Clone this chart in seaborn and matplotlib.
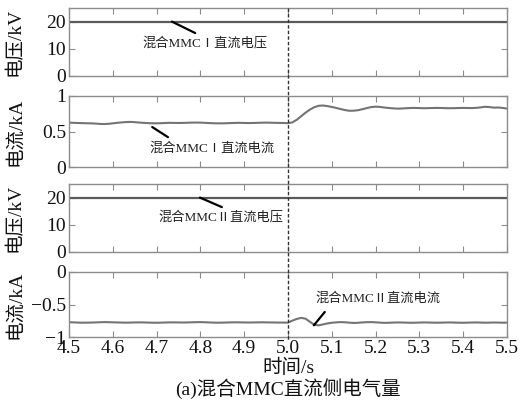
import numpy as np
import matplotlib
matplotlib.use("Agg")
import matplotlib.pyplot as plt
import matplotlib.transforms as mtransforms
import seaborn as sns

# ---------------- data ----------------
time_grid = np.linspace(4.5, 5.5, 101)

v1_time = [4.5, 5.5]
v1_kv = [20.0, 20.0]

i1_ka = [0.625, 0.622, 0.620, 0.618, 0.616, 0.615, 0.612, 0.607, 0.605, 0.608,
         0.615, 0.622, 0.628, 0.633, 0.635, 0.632, 0.626, 0.622, 0.618, 0.616,
         0.615, 0.617, 0.620, 0.622, 0.621, 0.620, 0.621, 0.623, 0.625, 0.626,
         0.625, 0.622, 0.619, 0.616, 0.615, 0.615, 0.617, 0.619, 0.621, 0.622,
         0.620, 0.619, 0.620, 0.622, 0.624, 0.625, 0.624, 0.622, 0.621, 0.620,
         0.617, 0.628, 0.665, 0.715, 0.765, 0.808, 0.842, 0.862, 0.866, 0.858,
         0.846, 0.832, 0.816, 0.802, 0.792, 0.793, 0.800, 0.814, 0.830, 0.844,
         0.850, 0.846, 0.838, 0.831, 0.826, 0.822, 0.824, 0.828, 0.831, 0.832,
         0.830, 0.828, 0.829, 0.831, 0.832, 0.831, 0.829, 0.828, 0.829, 0.831,
         0.832, 0.831, 0.830, 0.833, 0.840, 0.848, 0.844, 0.836, 0.838, 0.832,
         0.822]

v2_time = [4.5, 5.5]
v2_kv = [20.0, 20.0]

i2_ka = [-0.772, -0.775, -0.778, -0.780, -0.779, -0.778, -0.776, -0.773, -0.771, -0.772,
         -0.774, -0.776, -0.778, -0.779, -0.778, -0.776, -0.775, -0.776, -0.778, -0.780,
         -0.781, -0.779, -0.777, -0.775, -0.775, -0.776, -0.777, -0.776, -0.774, -0.772,
         -0.771, -0.773, -0.776, -0.779, -0.780, -0.779, -0.777, -0.775, -0.774, -0.775,
         -0.776, -0.777, -0.776, -0.775, -0.774, -0.775, -0.776, -0.777, -0.778, -0.778,
         -0.779, -0.748, -0.722, -0.706, -0.718, -0.766, -0.812, -0.821, -0.806, -0.791,
         -0.781, -0.775, -0.771, -0.774, -0.779, -0.784, -0.781, -0.776, -0.772, -0.771,
         -0.774, -0.779, -0.782, -0.781, -0.778, -0.776, -0.777, -0.779, -0.781, -0.780,
         -0.778, -0.776, -0.777, -0.779, -0.780, -0.779, -0.777, -0.776, -0.778, -0.780,
         -0.781, -0.779, -0.777, -0.776, -0.778, -0.780, -0.779, -0.777, -0.778, -0.780,
         -0.779]

xticks = [4.5, 4.6, 4.7, 4.8, 4.9, 5.0, 5.1, 5.2, 5.3, 5.4, 5.5]
xtick_labels = ["4.5", "4.6", "4.7", "4.8", "4.9", "5.0", "5.1", "5.2", "5.3", "5.4", "5.5"]
ylabels = ["电压/kV", "电流/kA", "电压/kV", "电流/kA"]
annot_texts = ["混合MMCⅠ直流电压", "混合MMCⅠ直流电流", "混合MMCⅡ直流电压", "混合MMCⅡ直流电流"]
xlabel = "时间/s"
caption = "(a)混合MMC直流侧电气量"

# ---------------- style ----------------
sns.set_style("ticks")
plt.rcParams['font.family'] = ['Liberation Serif', 'Noto Sans CJK SC']
plt.rcParams['axes.unicode_minus'] = True

W, H = 520, 404
fig = plt.figure(figsize=(W / 100, H / 100), dpi=100)
fig.patch.set_facecolor("white")

left_px, right_px = 69, 507
panels_px = [(8, 76), (96, 167), (184, 252), (272, 337)]
axes = []
for top, bot in panels_px:
    ax = fig.add_axes([left_px / W, (H - bot) / H, (right_px - left_px) / W, (bot - top) / H])
    axes.append(ax)

line_color = "#747474"
spine_color = "#8c8c8c"

sns.lineplot(x=v1_time, y=v1_kv, ax=axes[0], color="#5a5a5a", lw=1.6)
sns.lineplot(x=time_grid, y=i1_ka, ax=axes[1], color=line_color, lw=1.5)
sns.lineplot(x=v2_time, y=v2_kv, ax=axes[2], color="#5a5a5a", lw=1.6)
sns.lineplot(x=time_grid, y=i2_ka, ax=axes[3], color=line_color, lw=1.5)

ylims = [(0, 25), (0, 1), (0, 25), (-1, 0)]
yticks = [[0, 10, 20], [0, 0.5, 1], [0, 10, 20], [-1, -0.5, 0]]
ytick_labels = [["0", "10", "20"], ["0", "0.5", "1"], ["0", "10", "20"], ["\u22121", "\u22120.5", "0"]]

for k, ax in enumerate(axes):
    ax.set_xlim(4.5, 5.5)
    ax.set_ylim(*ylims[k])
    ax.set_xticks(xticks)
    ax.set_yticks(yticks[k])
    ax.set_yticklabels(ytick_labels[k])
    if k == 3:
        ax.set_xticklabels(xtick_labels)
    else:
        ax.set_xticklabels([])
    ax.tick_params(direction="in", top=True, right=True, length=4, width=0.8,
                   color=spine_color, labelsize=14, pad=2, labelcolor="#111111")
    for s in ax.spines.values():
        s.set_visible(True)
        s.set_color(spine_color)
        s.set_linewidth(1.0)
    ax.set_xlabel("")
    ax.set_ylabel(ylabels[k], fontsize=14, color="#111111")
    ax.yaxis.set_label_coords(-0.103, 0.5)

# annotations (leader lines + labels)
annot_lines = [((4.735, 20.0), (4.788, 15.8)),
               ((4.690, 0.563), (4.726, 0.42)),
               ((4.799, 20.0), (4.849, 16.5)),
               ((5.084, -0.615), (5.059, -0.82))]
annot_pos = [(4.810, 12.0), (4.826, 0.268), (4.846, 13.0), (5.205, -0.405)]
for k, ax in enumerate(axes):
    (x0, y0), (x1, y1) = annot_lines[k]
    ax.plot([x0, x1], [y0, y1], color="black", lw=1.6)
    ax.text(annot_pos[k][0], annot_pos[k][1], annot_texts[k], fontsize=9.5,
            ha="center", va="center", color="#222222")

# dashed vertical marker at t = 5.0 spanning all panels
trans = mtransforms.blended_transform_factory(axes[3].transData, fig.transFigure)
fig.add_artist(plt.Line2D([5.0, 5.0], [(H - 8) / H, (H - 341) / H], transform=trans,
                          color="#333333", lw=1.0, ls=(0, (2.5, 1.5))))

fig.text(288 / W, (H - 368) / H, xlabel, fontsize=14, ha="center", va="center", color="#111111")
fig.text(288 / W, (H - 389) / H, caption, fontsize=14, ha="center", va="center", color="#111111")

fig.savefig("out.png", dpi=100, facecolor="white")
